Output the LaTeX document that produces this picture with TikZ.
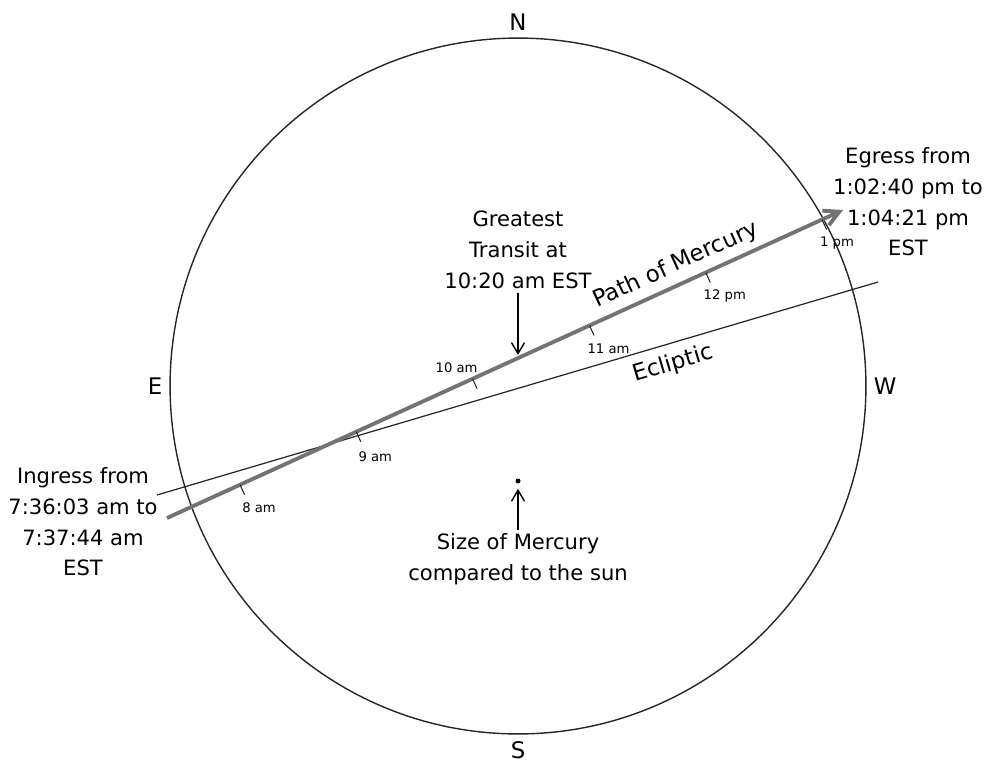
\documentclass[tikz,border=0pt]{standalone}
\usepackage{fontspec}
\setmainfont{DejaVu Sans}
\usetikzlibrary{arrows.meta, positioning, calc}
\tikzstyle{sundisc}     = [circle, draw=black!85, line width=0.8pt, minimum size=13.92cm, inner sep=0pt]
\tikzstyle{compass}     = [font=\fontsize{13}{15}\selectfont, inner sep=1pt]
\tikzstyle{note}        = [align=center, font=\fontsize{12}{17.5}\selectfont, inner sep=2pt]
\tikzstyle{hour}        = [font=\fontsize{7.5}{9}\selectfont, inner sep=0pt]
\tikzstyle{linetext}    = [font=\fontsize{13}{15}\selectfont, inner sep=0pt]
\tikzstyle{ecliptic}    = [draw=black!85, line width=0.7pt]
\tikzstyle{mercurypath} = [draw=black!55, line width=2.2pt, -{Straight Barb[length=3mm, width=3.2mm]}]
\tikzstyle{tickmark}    = [draw=black!85, line width=0.6pt]
\tikzstyle{planet}      = [circle, fill=black, inner sep=0pt, minimum size=1mm]
\tikzstyle{arrow}       = [-{Straight Barb[length=2.2mm, width=2.6mm]}, thick]

\begin{document}
\begin{tikzpicture}[x=0.02cm, y=-0.02cm]
    \useasboundingbox (0,0) rectangle (1000,775);
    % the sun and its compass points
    \node (sun) [sundisc] at (518,386) {};
    \node (north) [compass, above=1mm of sun.north] {N};
    \node (south) [compass, below=1mm of sun.south] {S};
    \node (east) [compass, left=1mm of sun.west] {E};
    \node (west) [compass, right=1mm of sun.east] {W};

    % ecliptic and path of mercury
    \coordinate (estart) at (157,495);
    \coordinate (eend) at (878,282);
    \coordinate (pstart) at (167,518);
    \coordinate (pend) at (843,210);
    \draw[ecliptic] (estart) -- (eend);
    \draw[mercurypath] (pstart) -- (pend);
    \node (pathlab) [linetext, rotate=24.5] at (676,265) {Path of Mercury};
    \node (ecllab) [linetext, rotate=16.5] at (673,364) {Ecliptic};

    \foreach \pos/\hr/\dx/\dy in {0.108/8 am/19/23, 0.280/9 am/19/25, 0.452/10 am/-16/-11,
                                  0.625/11 am/19/23, 0.797/12 pm/19/23, 0.969/1 pm/15/24}{
        \draw[tickmark] ($(pstart)!\pos!(pend)$) -- ++(65.5:11);
        \node[hour] at ($(pstart)!\pos!(pend) + (\dx,\dy)$) {\hr};
    }

    % notes
    \node (ingress) [note] at (83,522) {Ingress from\\7:36:03 am to\\7:37:44 am\\EST};
    \node (egress) [note] at (908,202) {Egress from\\1:02:40 pm to\\1:04:21 pm\\EST};
    \node (greatest) [note] at (518,250) {Greatest\\Transit at\\10:20 am EST};
    \coordinate (peak) at (518,355);
    \node (mercury) [planet] at (518,481) {};
    \node (size) [note] at (518,559) {Size of Mercury\\compared to the sun};

    \draw[arrow] (greatest) -- (peak);
    \draw[arrow, shorten >=1mm] (size) -- (mercury);
\end{tikzpicture}
\end{document}
